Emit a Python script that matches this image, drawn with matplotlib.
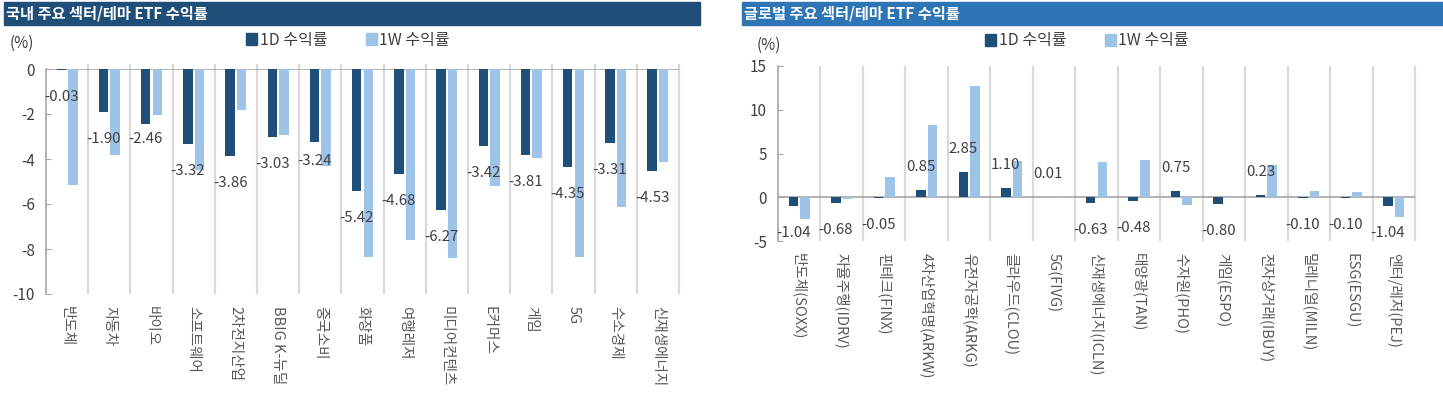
import numpy as np
import matplotlib
matplotlib.use("Agg")
import matplotlib.pyplot as plt
from matplotlib.patches import Rectangle, Patch

plt.rcParams['font.family'] = ['Noto Sans CJK KR', 'DejaVu Sans']
plt.rcParams['axes.unicode_minus'] = False

# --- data -------------------------------------------------------------
kr_title = "국내 주요 섹터/테마 ETF 수익률"
kr_cats = ["반도체", "자동차", "바이오", "소프트웨어", "2차전지산업", "BBIG K-뉴딜",
           "중국소비", "화장품", "여행레저", "미디어컨텐츠", "E커머스", "게임", "5G",
           "수소경제", "신재생에너지"]
kr_1d = [-0.03, -1.90, -2.46, -3.32, -3.86, -3.03, -3.24, -5.42, -4.68, -6.27,
         -3.42, -3.81, -4.35, -3.31, -4.53]
kr_1w = [-5.15, -3.80, -2.05, -4.50, -1.80, -2.95, -4.30, -8.35, -7.60, -8.40,
         -5.20, -3.95, -8.35, -6.15, -4.15]

gl_title = "글로벌 주요 섹터/테마 ETF 수익률"
gl_cats = ["반도체(SOXX)", "자율주행(IDRV)", "핀테크(FINX)", "4차산업혁명(ARKW)",
           "유전자공학(ARKG)", "클라우드(CLOU)", "5G(FIVG)", "신재생에너지(ICLN)",
           "태양광(TAN)", "수자원(PHO)", "게임(ESPO)", "전자상거래(IBUY)",
           "밀레니얼(MILN)", "ESG(ESGU)", "엔터/레저(PEJ)"]
gl_1d = [-1.04, -0.68, -0.05, 0.85, 2.85, 1.10, 0.01, -0.63, -0.48, 0.75,
         -0.80, 0.23, -0.10, -0.10, -1.04]
gl_1w = [-2.50, -0.15, 2.27, 8.30, 12.75, 4.10, 0.20, 4.05, 4.30, -0.90,
         -0.10, 3.70, 0.70, 0.60, -2.30]

series_names = ["1D 수익률", "1W 수익률"]

# --- style ------------------------------------------------------------
DARK = "#1f4e79"
LIGHT = "#9dc3e6"
GRID = "#d9d9d9"
AXIS = "#a6a6a6"
TXT = "#404040"
W, H = 1443, 398
PT = 0.72  # points per pixel at dpi=100

fig = plt.figure(figsize=(W / 100, H / 100), dpi=100)


def px_rect(x0, y0, x1, y1):
    return [x0 / W, 1 - y1 / H, (x1 - x0) / W, (y1 - y0) / H]


def panel(rect, cats, d1, w1, ylim, yticks, nudge):
    ax = fig.add_axes(rect)
    n = len(cats)
    x = np.arange(n)
    off, bw = 0.137, 0.225
    ax.bar(x - off, d1, bw, color=DARK, zorder=3)
    ax.bar(x + off, w1, bw, color=LIGHT, zorder=3)
    ax.set_xlim(-0.5, n - 0.5)
    ax.set_ylim(*ylim)

    # category separators (stick up a few px when the axis sits on top)
    top_ext = ylim[1] + 5 / (ax.bbox.height / (ylim[1] - ylim[0])) if ylim[1] == 0 else ylim[1]
    ax.vlines(np.arange(1, n + 1) - 0.5, ylim[0], top_ext, color=GRID, lw=1.6,
              zorder=1, clip_on=False)
    ax.axhline(0, color=AXIS, lw=1.2, zorder=2)

    for s in ["top", "right", "bottom"]:
        ax.spines[s].set_visible(False)
    ax.spines["left"].set_color(AXIS)
    ax.spines["left"].set_linewidth(1.2)

    ax.set_yticks(yticks)
    ax.tick_params(axis="y", direction="in", length=5 * PT, color=AXIS,
                   labelsize=11, labelcolor=TXT, pad=11 * PT)
    ax.set_xticks(x)
    ax.set_xticklabels(cats, rotation=270, va="top", ha="center")
    ax.tick_params(axis="x", length=0, labelsize=10.5, labelcolor="#595959",
                   pad=12 * PT)

    for i, v in enumerate(d1):
        dy = 23 if v >= 0 else -27
        dy += nudge.get(i, 0)
        ax.annotate(f"{v:.2f}", (i - off, v), xytext=(0, dy * PT),
                    textcoords="offset points", ha="center", va="center",
                    fontsize=10.8, color=TXT, zorder=4)
    return ax


ax1 = panel(px_rect(46, 69, 679, 294), kr_cats, kr_1d, kr_1w, (-10, 0),
            np.arange(-10, 1, 2), {2: 12, 6: 8})
ax2 = panel(px_rect(778, 66, 1415, 241), gl_cats, gl_1d, gl_1w, (-5, 15),
            np.arange(-5, 16, 5), {})

# title bars
for (x0, x1, col, title) in [(4, 700, "#1f4e79", kr_title),
                             (742, 1443, "#2e75b6", gl_title)]:
    fig.patches.append(Rectangle((x0 / W, 1 - 25 / H), (x1 - x0) / W, 23 / H,
                                 transform=fig.transFigure, color=col, zorder=0))
    fig.text((x0 + 2) / W, 1 - 13.5 / H, title, color="white", fontsize=11,
             fontweight="bold", va="center", ha="left")

# "(%)" unit labels
fig.text(10 / W, 1 - 43 / H, "(%)", fontsize=11, color=TXT, va="center")
fig.text(757 / W, 1 - 45 / H, "(%)", fontsize=11, color=TXT, va="center")

# legends
handles = [Patch(color=DARK), Patch(color=LIGHT)]
for x0, y0 in [(246, 40), (985, 41)]:
    fig.legend(handles, series_names, loc="center left",
               bbox_to_anchor=(x0 / W, 1 - y0 / H), ncol=2, frameon=False,
               fontsize=11.5, handlelength=0.7, handleheight=0.7,
               handletextpad=0.15, columnspacing=2.4, borderaxespad=0,
               borderpad=0, labelcolor=TXT)

fig.savefig("out.png", dpi=100, facecolor="white")
